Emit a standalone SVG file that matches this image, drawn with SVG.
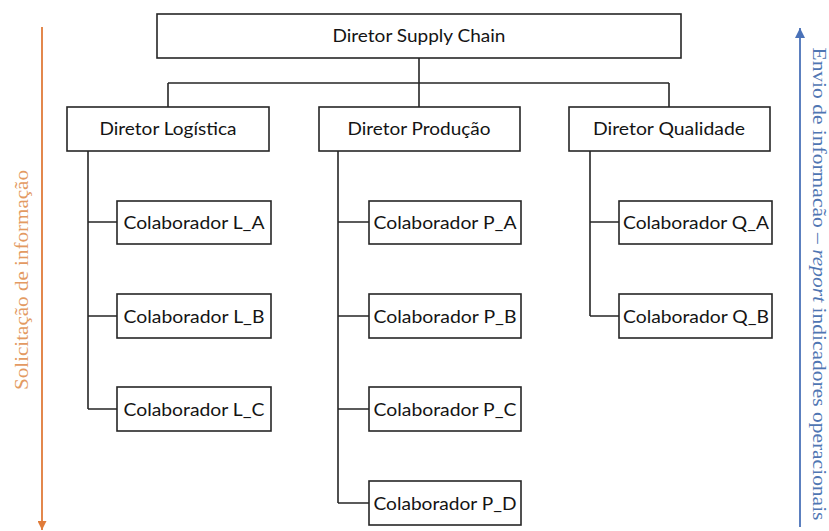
<svg xmlns="http://www.w3.org/2000/svg" width="829" height="531" viewBox="0 0 829 531">
<style>
.box{fill:#fff;stroke:#262626;stroke-width:1.6}
.lbl{font-family:Lato,"Open Sans","Liberation Sans",sans-serif;font-size:18px;fill:#141414;text-anchor:middle}
.con{fill:none;stroke:#262626;stroke-width:1.6}
.side{font-family:"Liberation Serif","DejaVu Serif",serif;font-size:19.5px;text-anchor:middle}
</style>
<defs>
<marker id="ahO" viewBox="0 0 10 10" refX="10" refY="5" markerWidth="9" markerHeight="9" markerUnits="userSpaceOnUse" orient="auto"><path d="M0,0 L10,5 L0,10 z" fill="#E07B39"/></marker>
<marker id="ahB" viewBox="0 0 10 10" refX="10" refY="5" markerWidth="10" markerHeight="10" markerUnits="userSpaceOnUse" orient="auto"><path d="M0,0 L10,5 L0,10 z" fill="#4A72B8"/></marker>
</defs>
<rect width="829" height="531" fill="#fff"/>

<g id="connectors">
<path class="con" d="M419,58 V83 M168,83 H669 M168,83 V107 M419,83 V107 M669,83 V107"/>
<path class="con" d="M88,151 V409 M88,222 H117 M88,316 H117 M88,409 H117"/>
<path class="con" d="M338,151 V503 M338,222 H369 M338,316 H369 M338,409 H369 M338,503 H369"/>
<path class="con" d="M590,151 V316 M590,222 H619 M590,316 H619"/>
</g>

<g id="director-supply-chain"><rect class="box" x="157" y="14" width="524" height="44"/><text class="lbl" x="419" y="42" textLength="173" lengthAdjust="spacingAndGlyphs">Diretor Supply Chain</text></g>
<g id="diretor-logistica"><rect class="box" x="67" y="107" width="202" height="44"/><text class="lbl" x="168" y="135" textLength="137" lengthAdjust="spacingAndGlyphs">Diretor Logística</text></g>
<g id="diretor-producao"><rect class="box" x="319" y="107" width="201" height="44"/><text class="lbl" x="419" y="135" textLength="143" lengthAdjust="spacingAndGlyphs">Diretor Produção</text></g>
<g id="diretor-qualidade"><rect class="box" x="569" y="107" width="201" height="44"/><text class="lbl" x="669" y="135" textLength="152" lengthAdjust="spacingAndGlyphs">Diretor Qualidade</text></g>

<g id="colab-la"><rect class="box" x="117" y="201" width="154" height="43"/><text class="lbl" x="194" y="229" textLength="141" lengthAdjust="spacingAndGlyphs">Colaborador L_A</text></g>
<g id="colab-lb"><rect class="box" x="117" y="294" width="154" height="44"/><text class="lbl" x="194" y="323" textLength="141" lengthAdjust="spacingAndGlyphs">Colaborador L_B</text></g>
<g id="colab-lc"><rect class="box" x="117" y="387" width="154" height="44"/><text class="lbl" x="194" y="416" textLength="141" lengthAdjust="spacingAndGlyphs">Colaborador L_C</text></g>

<g id="colab-pa"><rect class="box" x="369" y="201" width="152" height="43"/><text class="lbl" x="445" y="229" textLength="143" lengthAdjust="spacingAndGlyphs">Colaborador P_A</text></g>
<g id="colab-pb"><rect class="box" x="369" y="294" width="152" height="44"/><text class="lbl" x="445" y="323" textLength="143" lengthAdjust="spacingAndGlyphs">Colaborador P_B</text></g>
<g id="colab-pc"><rect class="box" x="369" y="387" width="152" height="44"/><text class="lbl" x="445" y="416" textLength="143" lengthAdjust="spacingAndGlyphs">Colaborador P_C</text></g>
<g id="colab-pd"><rect class="box" x="369" y="481" width="152" height="44"/><text class="lbl" x="445" y="510" textLength="143" lengthAdjust="spacingAndGlyphs">Colaborador P_D</text></g>

<g id="colab-qa"><rect class="box" x="619" y="201" width="153" height="43"/><text class="lbl" x="696" y="229" textLength="146" lengthAdjust="spacingAndGlyphs">Colaborador Q_A</text></g>
<g id="colab-qb"><rect class="box" x="619" y="294" width="153" height="44"/><text class="lbl" x="696" y="323" textLength="146" lengthAdjust="spacingAndGlyphs">Colaborador Q_B</text></g>

<g id="solicitacao">
<line x1="42" y1="27" x2="42" y2="530" stroke="#E07B39" stroke-width="1.8" marker-end="url(#ahO)"/>
<text class="side" fill="#E39A62" transform="translate(28,280) rotate(-90)" x="0" y="0" textLength="220" lengthAdjust="spacingAndGlyphs">Solicitação de informação</text>
</g>
<g id="envio">
<line x1="800" y1="527" x2="800" y2="28" stroke="#4A72B8" stroke-width="1.8" marker-end="url(#ahB)"/>
<text class="side" fill="#4F76B3" transform="translate(813,284) rotate(90)" x="0" y="0" textLength="473" lengthAdjust="spacingAndGlyphs">Envio de informacão – <tspan font-style="italic">report</tspan> indicadores operacionais</text>
</g>
</svg>
